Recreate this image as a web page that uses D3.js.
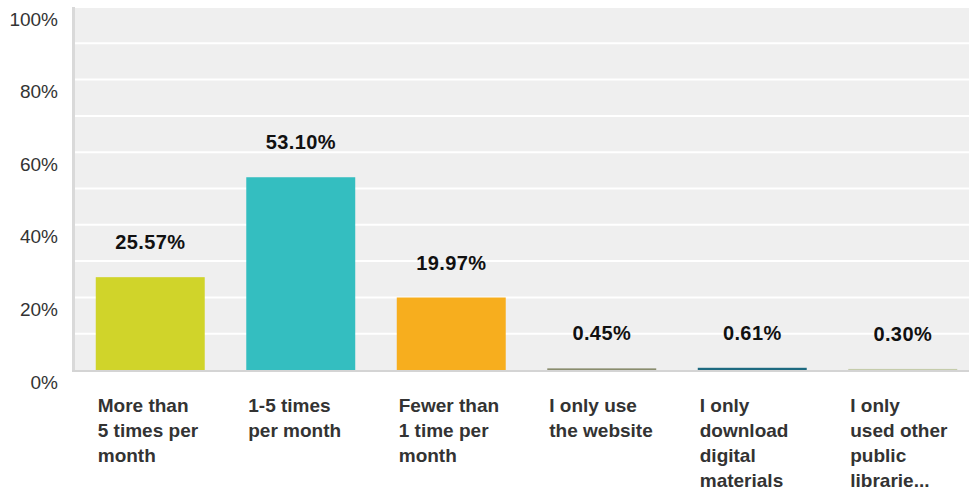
<!DOCTYPE html>
<html lang="en">
<head>
    <meta charset="UTF-8">
    <title>Library visits</title>
    <script src="https://d3js.org/d3.v7.min.js"></script>
    <style>
        body {
            margin: 0;
            padding: 0;
            background-color: #fff;
            font-family: Arial, "Liberation Sans", sans-serif;
        }
    </style>
</head>
<body>
    <div id="chart"></div>
    <script>
        // data
        const categories = [
            'More than 5 times per month',
            '1-5 times per month',
            'Fewer than 1 time per month',
            'I only use the website',
            'I only download digital materials',
            'I only used other public librarie...'
        ];
        const categoryLines = [
            ['More than', '5 times per', 'month'],
            ['1-5 times', 'per month'],
            ['Fewer than', '1 time per', 'month'],
            ['I only use', 'the website'],
            ['I only', 'download', 'digital', 'materials'],
            ['I only', 'used other', 'public', 'librarie...']
        ];
        const values = [25.57, 53.10, 19.97, 0.45, 0.61, 0.30];
        const barColors = ['#d0d42a', '#34bec0', '#f7ae1e', '#8a8d6e', '#1e6a80', '#c5ccab'];
        const yTicks = [0, 20, 40, 60, 80, 100];
        const gridTicks = [10, 20, 30, 40, 50, 60, 70, 80, 90, 100];

        const width = 969, height = 491;
        const plotLeft = 75, plotTop = 7, plotBottom = 370, plotRight = 969;

        const svg = d3.select('#chart')
            .append('svg')
            .attr('width', width)
            .attr('height', height);

        const x = d3.scaleBand()
            .domain(categories)
            .range([plotLeft, plotLeft + 903])
            .paddingInner(0.276)
            .paddingOuter(0.138);

        const y = d3.scaleLinear()
            .domain([0, 100])
            .range([plotBottom, plotTop]);

        // plot background
        svg.append('rect')
            .attr('x', plotLeft)
            .attr('y', plotTop)
            .attr('width', plotRight - plotLeft)
            .attr('height', plotBottom - plotTop)
            .attr('fill', '#efefef');

        // grid lines
        svg.selectAll('.grid')
            .data(gridTicks)
            .enter()
            .append('line')
            .attr('x1', plotLeft)
            .attr('x2', plotRight)
            .attr('y1', d => y(d))
            .attr('y2', d => y(d))
            .attr('stroke', '#fff')
            .attr('stroke-width', 2);

        // left and bottom borders
        svg.append('line')
            .attr('x1', plotLeft - 1.5).attr('x2', plotLeft - 1.5)
            .attr('y1', plotTop).attr('y2', plotBottom + 2)
            .attr('stroke', '#d9d9d9').attr('stroke-width', 3);
        svg.append('line')
            .attr('x1', plotLeft - 3).attr('x2', plotRight)
            .attr('y1', plotBottom + 1).attr('y2', plotBottom + 1)
            .attr('stroke', '#d4d4d4').attr('stroke-width', 2);

        // y axis labels
        const yAxis = svg.append('g')
            .attr('transform', `translate(${plotLeft - 17},12)`)
            .call(d3.axisLeft(y).tickValues(yTicks).tickFormat(d => d + '%').tickSize(0).tickPadding(0));
        yAxis.select('.domain').remove();
        yAxis.selectAll('text')
            .attr('fill', '#333')
            .style('font-family', 'Arial, "Liberation Sans", sans-serif')
            .style('font-size', '19px');

        // bars
        svg.selectAll('.bar')
            .data(values)
            .enter()
            .append('rect')
            .attr('x', (d, i) => x(categories[i]))
            .attr('y', d => y(d))
            .attr('width', x.bandwidth())
            .attr('height', d => plotBottom - y(d))
            .attr('fill', (d, i) => barColors[i]);

        // value labels
        svg.selectAll('.val')
            .data(values)
            .enter()
            .append('text')
            .attr('x', (d, i) => x(categories[i]) + x.bandwidth() / 2)
            .attr('y', d => y(d) - 28)
            .attr('text-anchor', 'middle')
            .attr('fill', '#111')
            .style('font-weight', 'bold')
            .style('font-size', '20px')
            .style('letter-spacing', '0.4px')
            .text(d => d.toFixed(2) + '%');

        // category labels
        categoryLines.forEach((lines, i) => {
            const t = svg.append('text')
                .attr('x', x(categories[i]) + 2)
                .attr('y', 412)
                .attr('fill', '#333')
                .style('font-weight', 'bold')
                .style('font-size', '19px');
            lines.forEach((line, j) => {
                t.append('tspan')
                    .attr('x', x(categories[i]) + 2)
                    .attr('y', 412 + j * 25)
                    .text(line);
            });
        });
    </script>
</body>
</html>
